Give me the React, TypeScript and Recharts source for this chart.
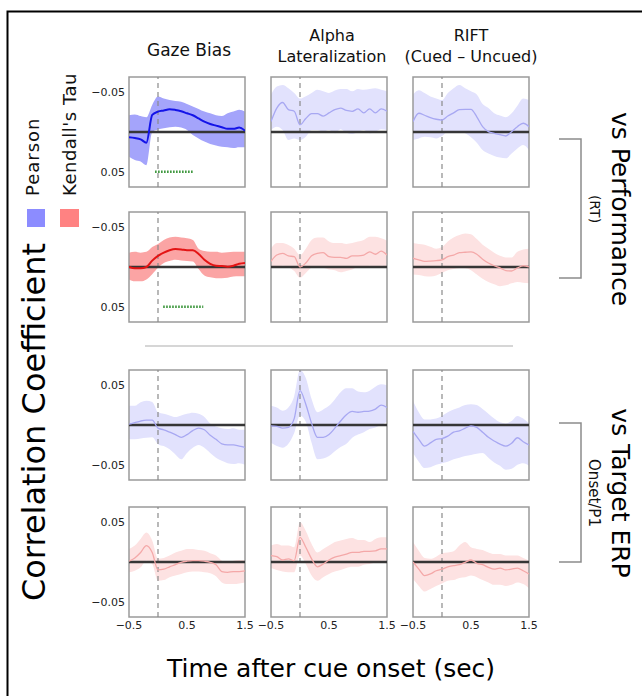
import React from 'react';
import { ComposedChart, Area, Line, XAxis, YAxis, ReferenceLine, ReferenceArea } from 'recharts';

// ---------- data ----------
const TIME = [-0.5, -0.4, -0.3, -0.2, -0.1, 0, 0.1, 0.2, 0.3, 0.4, 0.5, 0.6, 0.7, 0.8, 0.9, 1.0, 1.1, 1.2, 1.3, 1.4, 1.5];
const X_TICKS = [-0.5, 0.5, 1.5];
const Y_TICKS = [-0.05, 0.05];
const Y_DOMAIN: [number, number] = [-0.069, 0.069];
const COLUMN_TITLES = [['Gaze Bias'], ['Alpha', 'Lateralization'], ['RIFT', '(Cued – Uncued)']];
const LEGEND_LABELS = ['Pearson', "Kendall's Tau"];
const Y_LABEL = 'Correlation Coefficient';
const X_LABEL = 'Time after cue onset (sec)';
const GROUP_LABELS = [['vs Performance', '(RT)'], ['vs Target ERP', 'Onset/P1']];
const SIG_LEVEL = 0.05;
const SIG_PERF_PEARSON = [-0.05, 0.62];
const SIG_PERF_KENDALL = [0.09, 0.78];

// Row 1: vs Performance, Pearson
const gazePerfP_mean = [0.0067, 0.0076, 0.0092, 0.0134, -0.0214, -0.0256, -0.027, -0.0286, -0.0277, -0.026, -0.0235, -0.021, -0.017, -0.013, -0.01, -0.008, -0.006, -0.004, -0.004, -0.0055, -0.0017];
const gazePerfP_lo = [-0.021, -0.022, -0.02, -0.0185, -0.034, -0.0445, -0.042, -0.04, -0.039, -0.038, -0.035, -0.032, -0.029, -0.0256, -0.0235, -0.021, -0.02, -0.0235, -0.0256, -0.028, -0.0256];
const gazePerfP_hi = [0.031, 0.035, 0.037, 0.0416, 0.0, -0.003, -0.0046, -0.006, -0.0067, -0.0055, -0.0025, 0.0038, 0.008, 0.012, 0.015, 0.0168, 0.0185, 0.019, 0.02, 0.019, 0.019];

const alphaPerfP_mean = [-0.013, -0.03, -0.037, -0.028, -0.026, -0.009, -0.017, -0.023, -0.023, -0.02, -0.024, -0.028, -0.03, -0.027, -0.026, -0.029, -0.024, -0.029, -0.024, -0.029, -0.026];
const alphaPerfP_lo = [-0.047, -0.057, -0.059, -0.055, -0.049, -0.042, -0.045, -0.049, -0.053, -0.051, -0.049, -0.052, -0.054, -0.054, -0.051, -0.054, -0.053, -0.054, -0.055, -0.053, -0.051];
const alphaPerfP_hi = [-0.0025, -0.0067, -0.0025, 0.01, 0.008, 0.01, 0.006, -0.0025, -0.0025, -0.0004, -0.0025, 0.0017, -0.0034, 0.0008, 0.0025, -0.0004, -0.0025, 0.0017, -0.0004, -0.0034, -0.0025];

const riftPerfP_mean = [-0.013, -0.0235, -0.021, -0.018, -0.016, -0.015, -0.02, -0.024, -0.028, -0.0285, -0.0285, -0.019, -0.0067, -0.0004, 0.0017, 0.0034, 0.005, -0.0004, -0.0067, -0.011, -0.0067];
const riftPerfP_lo = [-0.047, -0.0525, -0.049, -0.0445, -0.042, -0.04, -0.049, -0.055, -0.059, -0.055, -0.051, -0.047, -0.035, -0.03, -0.0235, -0.0206, -0.0185, -0.0235, -0.033, -0.042, -0.04];
const riftPerfP_hi = [0.01, 0.008, 0.006, 0.0067, 0.008, 0.005, -0.0004, -0.0004, -0.0004, 0.0017, 0.0067, 0.0134, 0.0227, 0.027, 0.03, 0.032, 0.033, 0.027, 0.0206, 0.0164, 0.0227];

// Row 2: vs Performance, Kendall's Tau
const gazePerfK_mean = [0, 0.0016, 0.0016, 0, -0.008, -0.014, -0.018, -0.021, -0.0225, -0.022, -0.021, -0.021, -0.0164, -0.009, -0.004, -0.0016, -0.0012, -0.0004, -0.0016, -0.004, -0.005];
const gazePerfK_lo = [-0.018, -0.019, -0.018, -0.019, -0.025, -0.029, -0.034, -0.037, -0.038, -0.037, -0.036, -0.034, -0.023, -0.02, -0.019, -0.019, -0.018, -0.0185, -0.019, -0.019, -0.019];
const gazePerfK_hi = [0.0156, 0.018, 0.018, 0.0156, 0.009, 0.001, -0.005, -0.0074, -0.009, -0.008, -0.0074, -0.007, 0.0025, 0.0107, 0.013, 0.014, 0.014, 0.0135, 0.012, 0.0115, 0.0115];

const alphaPerfK_mean = [-0.007, -0.015, -0.017, -0.014, -0.013, 0, -0.005, -0.014, -0.017, -0.018, -0.013, -0.012, -0.012, -0.0107, -0.014, -0.014, -0.015, -0.019, -0.016, -0.02, -0.015];
const alphaPerfK_lo = [-0.023, -0.03, -0.03, -0.0275, -0.023, -0.015, -0.023, -0.034, -0.037, -0.037, -0.032, -0.03, -0.03, -0.029, -0.03, -0.032, -0.034, -0.038, -0.038, -0.036, -0.033];
const alphaPerfK_hi = [0.001, 0, -0.0016, 0, 0.005, 0.0135, 0.0074, 0.001, 0, 0.001, 0.003, 0.004, 0.0066, 0.005, 0.003, 0, 0, -0.0016, 0, -0.0016, 0];

const riftPerfK_mean = [-0.011, -0.009, -0.007, -0.0074, -0.008, -0.009, -0.013, -0.015, -0.018, -0.0185, -0.019, -0.016, -0.0098, -0.005, -0.0016, 0.0012, 0.0045, 0.005, 0.0012, -0.0016, 0];
const riftPerfK_lo = [-0.03, -0.029, -0.028, -0.0254, -0.023, -0.025, -0.032, -0.037, -0.04, -0.042, -0.041, -0.035, -0.028, -0.023, -0.018, -0.014, -0.012, -0.012, -0.019, -0.022, -0.023];
const riftPerfK_hi = [0.0094, 0.01, 0.0115, 0.012, 0.0106, 0.0074, 0.004, 0.0025, 0.0016, 0.0016, 0.004, 0.0094, 0.0147, 0.0188, 0.0217, 0.024, 0.023, 0.0205, 0.0188, 0.0197, 0.0205];

// Row 3: vs Target ERP, Pearson
const gazeErpP_mean = [0.001, 0.003, 0.005, 0.006, 0.006, -0.004, -0.006, -0.009, -0.012, -0.0155, -0.012, -0.007, -0.004, -0.006, -0.013, -0.018, -0.0236, -0.025, -0.025, -0.0265, -0.028];
const gazeErpP_lo = [-0.018, -0.018, -0.017, -0.016, -0.0155, -0.024, -0.0265, -0.0305, -0.037, -0.043, -0.035, -0.0285, -0.025, -0.0285, -0.035, -0.041, -0.045, -0.048, -0.049, -0.048, -0.05];
const gazeErpP_hi = [0.024, 0.024, 0.0285, 0.0305, 0.029, 0.016, 0.014, 0.012, 0.01, 0.012, 0.014, 0.0155, 0.014, 0.01, 0.002, -0.002, -0.004, -0.005, -0.004, -0.006, -0.006];

const alphaErpP_mean = [-0.001, -0.0016, -0.004, -0.003, 0.008, 0.043, 0.026, 0.002, -0.0155, -0.0155, -0.012, -0.004, 0.005, 0.013, 0.017, 0.016, 0.017, 0.0175, 0.02, 0.025, 0.022];
const alphaErpP_lo = [-0.0224, -0.0265, -0.0285, -0.0236, -0.01, 0.012, 0.004, -0.0224, -0.043, -0.042, -0.039, -0.033, -0.0277, -0.0236, -0.016, -0.012, -0.009, -0.005, -0.003, 0, 0.004];
const alphaErpP_hi = [0.024, 0.022, 0.018, 0.022, 0.036, 0.069, 0.059, 0.0325, 0.016, 0.0195, 0.024, 0.032, 0.041, 0.046, 0.046, 0.042, 0.041, 0.043, 0.048, 0.051, 0.05];

const riftErpP_mean = [-0.008, -0.018, -0.0265, -0.0225, -0.018, -0.017, -0.014, -0.009, -0.0073, -0.004, -0.001, -0.003, -0.009, -0.0155, -0.02, -0.024, -0.0265, -0.023, -0.016, -0.021, -0.025];
const riftErpP_lo = [-0.035, -0.046, -0.054, -0.053, -0.05, -0.048, -0.046, -0.043, -0.041, -0.039, -0.0375, -0.036, -0.035, -0.041, -0.047, -0.051, -0.056, -0.055, -0.05, -0.048, -0.051];
const riftErpP_hi = [0.0305, 0.016, 0.007, 0.007, 0.008, 0.0114, 0.016, 0.0195, 0.022, 0.025, 0.026, 0.025, 0.02, 0.014, 0.008, 0.0033, 0.002, 0.005, 0.0114, 0.008, 0.002];

// Row 4: vs Target ERP, Kendall's Tau
const gazeErpK_mean = [0.001, 0.005, 0.012, 0.0206, 0.012, -0.01, -0.009, -0.006, -0.0034, -0.0004, 0.001, 0.0017, 0.0017, 0.001, -0.0004, -0.0034, -0.012, -0.013, -0.012, -0.012, -0.011];
const gazeErpK_lo = [-0.013, -0.011, -0.0067, 0.0017, -0.0025, -0.0235, -0.0227, -0.019, -0.017, -0.015, -0.013, -0.012, -0.012, -0.013, -0.014, -0.018, -0.0256, -0.0277, -0.0277, -0.027, -0.0256];
const gazeErpK_hi = [0.0164, 0.0206, 0.029, 0.037, 0.027, 0.004, 0.005, 0.008, 0.012, 0.014, 0.0164, 0.0164, 0.015, 0.014, 0.011, 0.008, 0.0017, -0.0004, 0.0017, 0.0025, 0.0025];

const alphaErpK_mean = [0.008, 0.0067, 0.0025, 0.004, 0.0017, 0.031, 0.0185, 0.004, -0.006, -0.0025, 0.0025, 0.006, 0.008, 0.01, 0.012, 0.012, 0.0134, 0.0134, 0.014, 0.0164, 0.0164];
const alphaErpK_lo = [-0.0076, -0.01, -0.012, -0.013, -0.013, 0.008, -0.0025, -0.017, -0.0235, -0.019, -0.015, -0.012, -0.01, -0.0076, -0.006, -0.006, -0.0034, -0.0025, -0.0004, 0.0017, 0.0017];
const alphaErpK_hi = [0.0206, 0.0227, 0.0206, 0.0206, 0.0185, 0.05, 0.039, 0.0227, 0.012, 0.0164, 0.0206, 0.025, 0.027, 0.029, 0.03, 0.0277, 0.0277, 0.025, 0.029, 0.031, 0.031];

const riftErpK_mean = [0, -0.009, -0.017, -0.015, -0.011, -0.009, -0.006, -0.0046, -0.0034, -0.0004, 0.0025, -0.0017, -0.0034, -0.0067, -0.009, -0.0076, -0.01, -0.009, -0.0076, -0.011, -0.015];
const riftErpK_lo = [-0.0214, -0.03, -0.037, -0.034, -0.03, -0.027, -0.0235, -0.0227, -0.02, -0.019, -0.017, -0.019, -0.0227, -0.0256, -0.0286, -0.0286, -0.03, -0.0286, -0.0256, -0.0277, -0.033];
const riftErpK_hi = [0.025, 0.014, 0.005, 0.004, 0.0067, 0.011, 0.012, 0.0134, 0.0206, 0.025, 0.0185, 0.0164, 0.015, 0.012, 0.01, 0.01, 0.008, 0.008, 0.008, 0.005, 0.0017];

// ---------- styling / layout ----------
const FONT = 'DejaVu Sans';
const COL_X = [129, 271, 413];
const ROW_Y = [77, 212, 370, 507];
const PW = 116;
const PH = 110;
const ML = 45;
const MT = 5;
const MR = 10;
const XH = 25;

const STYLES = {
  pStrong: { line: '#1414e8', band: '#a4a4fb', width: 2 },
  pFaint: { line: '#a8a8f2', band: '#e2e2fd', width: 1.3 },
  kStrong: { line: '#e31414', band: '#fba4a4', width: 2 },
  kFaint: { line: '#f4a8a8', band: '#fde2e2', width: 1.3 },
};

type Cfg = { mean: number[]; lo: number[]; hi: number[]; style: keyof typeof STYLES; sig?: number[] };

const ROWS: Cfg[][] = [
  [
    { mean: gazePerfP_mean, lo: gazePerfP_lo, hi: gazePerfP_hi, style: 'pStrong', sig: SIG_PERF_PEARSON },
    { mean: alphaPerfP_mean, lo: alphaPerfP_lo, hi: alphaPerfP_hi, style: 'pFaint' },
    { mean: riftPerfP_mean, lo: riftPerfP_lo, hi: riftPerfP_hi, style: 'pFaint' },
  ],
  [
    { mean: gazePerfK_mean, lo: gazePerfK_lo, hi: gazePerfK_hi, style: 'kStrong', sig: SIG_PERF_KENDALL },
    { mean: alphaPerfK_mean, lo: alphaPerfK_lo, hi: alphaPerfK_hi, style: 'kFaint' },
    { mean: riftPerfK_mean, lo: riftPerfK_lo, hi: riftPerfK_hi, style: 'kFaint' },
  ],
  [
    { mean: gazeErpP_mean, lo: gazeErpP_lo, hi: gazeErpP_hi, style: 'pFaint' },
    { mean: alphaErpP_mean, lo: alphaErpP_lo, hi: alphaErpP_hi, style: 'pFaint' },
    { mean: riftErpP_mean, lo: riftErpP_lo, hi: riftErpP_hi, style: 'pFaint' },
  ],
  [
    { mean: gazeErpK_mean, lo: gazeErpK_lo, hi: gazeErpK_hi, style: 'kFaint' },
    { mean: alphaErpK_mean, lo: alphaErpK_lo, hi: alphaErpK_hi, style: 'kFaint' },
    { mean: riftErpK_mean, lo: riftErpK_lo, hi: riftErpK_hi, style: 'kFaint' },
  ],
];

const fmt = (v: number) => (v < 0 ? '\u2212' + Math.abs(v) : String(v));
const tickStyle = { fontSize: 11, fill: '#222', fontFamily: FONT };

function Panel({ row, col, cfg }: { row: number; col: number; cfg: Cfg }) {
  const s = STYLES[cfg.style];
  const data = TIME.map((t, i) => ({ t, m: cfg.mean[i], lo: cfg.lo[i], hi: cfg.hi[i] }));
  return (
    <div style={{ position: 'absolute', left: COL_X[col] - ML, top: ROW_Y[row] - MT }}>
      <ComposedChart width={ML + PW + MR} height={MT + PH + XH} data={data} margin={{ top: MT, right: MR, left: 0, bottom: 0 }}>
        <XAxis
          type="number"
          dataKey="t"
          domain={[-0.5, 1.5]}
          ticks={X_TICKS}
          interval={0}
          allowDataOverflow
          height={XH}
          axisLine={false}
          tickLine={false}
          tickSize={3}
          tickMargin={1}
          tick={row === 3 ? tickStyle : false}
          tickFormatter={fmt}
        />
        <YAxis
          type="number"
          domain={Y_DOMAIN}
          ticks={Y_TICKS}
          interval={0}
          reversed={row < 2}
          allowDataOverflow
          width={ML}
          axisLine={false}
          tickLine={false}
          tickSize={3}
          tickMargin={1}
          tick={col === 0 ? tickStyle : false}
          tickFormatter={fmt}
        />
        <Area
          type="monotone"
          dataKey={(d: any) => [d.lo, d.hi]}
          stroke="none"
          fill={s.band}
          fillOpacity={1}
          isAnimationActive={false}
        />
        <ReferenceLine x={0} stroke="#8a8a8a" strokeWidth={1.2} strokeDasharray="5 4" />
        <ReferenceLine y={0} stroke="#363636" strokeWidth={2.4} />
        <Line type="monotone" dataKey="m" stroke={s.line} strokeWidth={s.width} dot={false} isAnimationActive={false} />
        {cfg.sig && (
          <ReferenceLine
            segment={[{ x: cfg.sig[0], y: SIG_LEVEL }, { x: cfg.sig[1], y: SIG_LEVEL }]}
            stroke="#2f8f2f"
            strokeWidth={2.5}
            strokeDasharray="1.5 1.5"
          />
        )}
        <ReferenceArea x1={-0.5} x2={1.5} y1={Y_DOMAIN[0]} y2={Y_DOMAIN[1]} fill="none" fillOpacity={0} stroke="#9a9a9a" strokeWidth={1.5} />
      </ComposedChart>
    </div>
  );
}

export default function App() {
  return (
    <div style={{ position: 'absolute', left: 0, top: 0, width: 642, height: 696, background: '#fff', overflow: 'hidden' }}>
      {ROWS.map((r, ri) => r.map((cfg, ci) => <Panel key={ri + '-' + ci} row={ri} col={ci} cfg={cfg} />))}
      <svg width={642} height={696} style={{ position: 'absolute', left: 0, top: 0, pointerEvents: 'none' }} fontFamily={FONT}>
        <path d="M7.5 696 V11.5 H642" stroke="#000" strokeWidth={2} fill="none" />
        {/* column titles */}
        <text x={189} y={56} fontSize={17} textAnchor="middle" fill="#111">{COLUMN_TITLES[0][0]}</text>
        <text x={332} y={41} fontSize={16} textAnchor="middle" fill="#111">{COLUMN_TITLES[1][0]}</text>
        <text x={332} y={62} fontSize={16} textAnchor="middle" fill="#111">{COLUMN_TITLES[1][1]}</text>
        <text x={471} y={41} fontSize={16} textAnchor="middle" fill="#111">{COLUMN_TITLES[2][0]}</text>
        <text x={471} y={62} fontSize={16} textAnchor="middle" fill="#111">{COLUMN_TITLES[2][1]}</text>
        {/* axis titles */}
        <text transform="translate(45,422) rotate(-90)" fontSize={32} textAnchor="middle" fill="#000">{Y_LABEL}</text>
        <text x={331} y={677} fontSize={25} textAnchor="middle" fill="#000">{X_LABEL}</text>
        {/* legend */}
        <text transform="translate(39,196) rotate(-90)" fontSize={18} letterSpacing={1} fill="#111">{LEGEND_LABELS[0]}</text>
        <text transform="translate(76,196) rotate(-90)" fontSize={18} letterSpacing={0.5} fill="#111">{LEGEND_LABELS[1]}</text>
        <rect x={27} y={209} width={18} height={18} fill="#8c8cff" />
        <rect x={60} y={209} width={19} height={18} fill="#ff8282" />
        {/* separator */}
        <line x1={145} x2={513} y1={346} y2={346} stroke="#d6d6d6" strokeWidth={2} />
        {/* brackets */}
        <path d="M559 139 H581 V278 H559" stroke="#8c8c8c" strokeWidth={1.5} fill="none" />
        <path d="M559 423 H581 V562 H559" stroke="#8c8c8c" strokeWidth={1.5} fill="none" />
        {/* group labels */}
        <text transform="translate(612,209) rotate(90)" fontSize={25} textAnchor="middle" fill="#000">{GROUP_LABELS[0][0]}</text>
        <text transform="translate(590,209) rotate(90)" fontSize={14} textAnchor="middle" fill="#111">{GROUP_LABELS[0][1]}</text>
        <text transform="translate(612,493) rotate(90)" fontSize={25} textAnchor="middle" fill="#000">{GROUP_LABELS[1][0]}</text>
        <text transform="translate(589,493) rotate(90)" fontSize={15} textAnchor="middle" fill="#111">{GROUP_LABELS[1][1]}</text>
      </svg>
    </div>
  );
}
